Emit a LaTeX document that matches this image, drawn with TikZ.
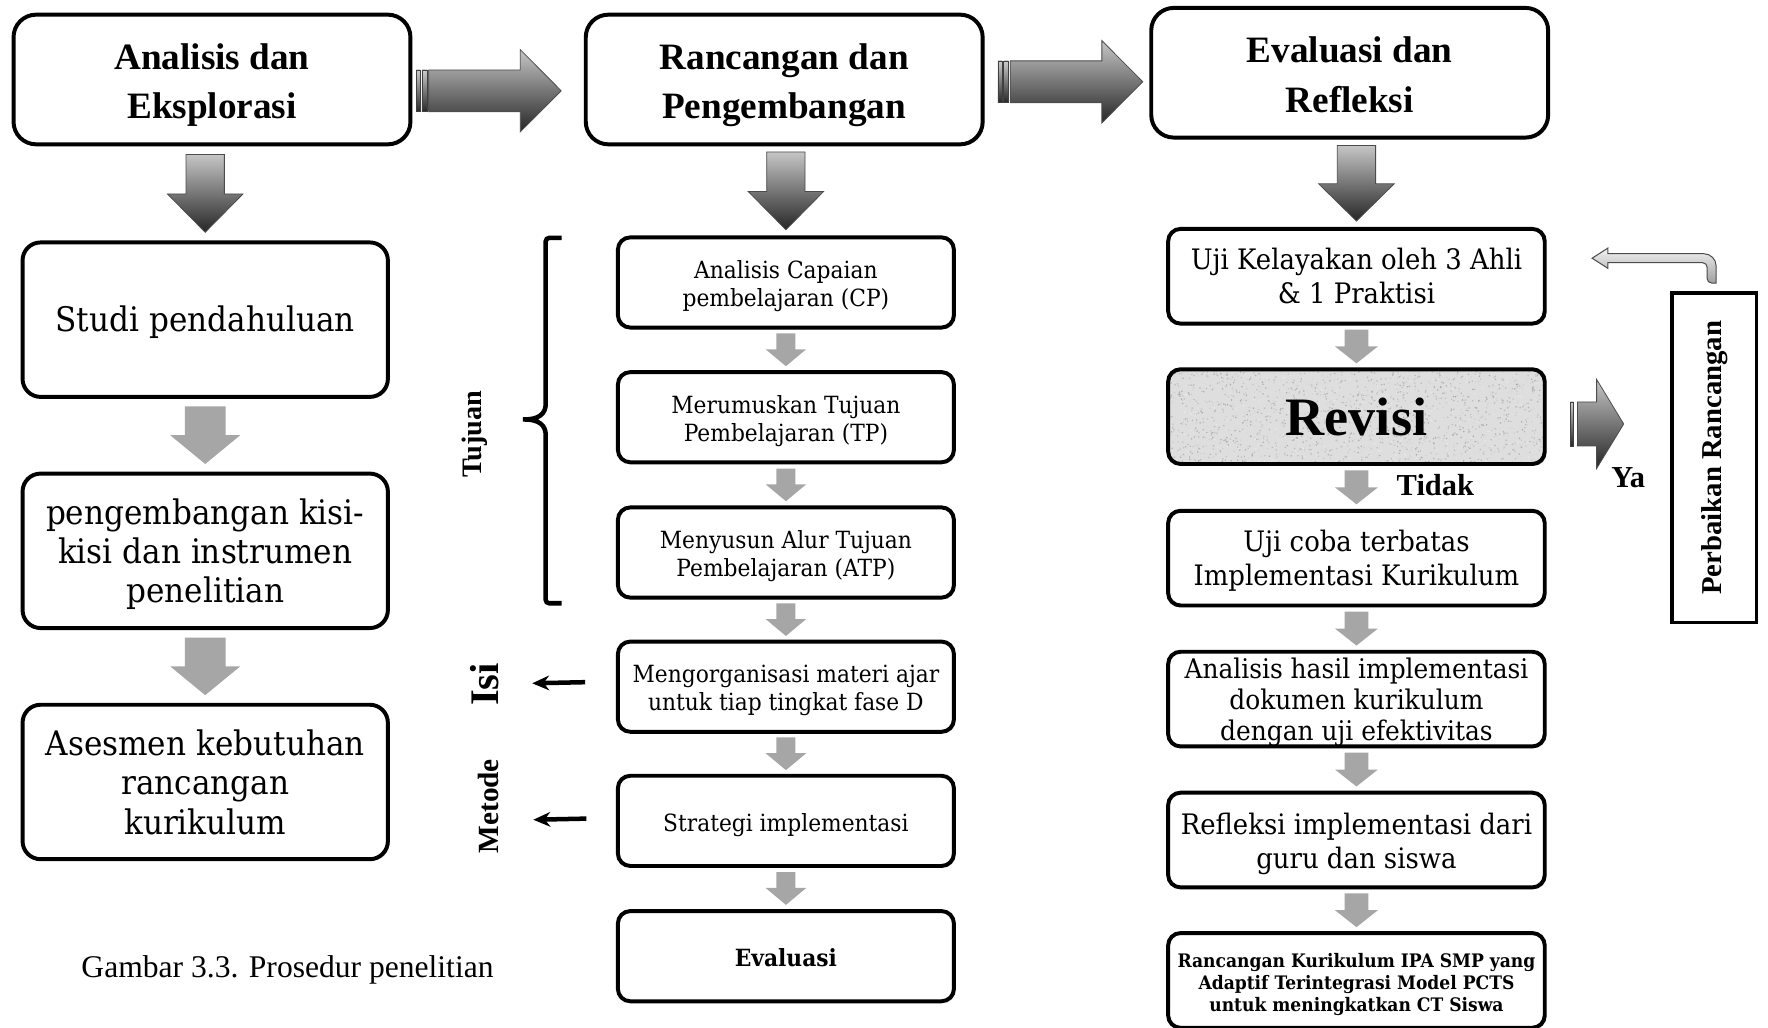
\documentclass[tikz,border=0pt]{standalone}
\usepackage{fontspec}
\setmainfont{Liberation Serif}
\newfontfamily\cam[FakeStretch=0.92]{DejaVu Serif}
\usetikzlibrary{calc,arrows.meta,shadows}
\definecolor{arrowgrey}{RGB}{166,166,166}
\definecolor{revgrey}{RGB}{222,222,222}
\tikzset{
  shdw/.style={drop shadow={shadow xshift=1.5pt,shadow yshift=-1.5pt,opacity=.3}},
  boxbase/.style={draw,line width=3.5pt,fill=white,inner sep=0pt,outer sep=0pt},
  hdr/.style={boxbase,rounded corners=20pt,minimum width=352pt,minimum height=115pt},
  lbox/.style={boxbase,rounded corners=16pt,minimum width=324pt,minimum height=137pt},
  mbox/.style={boxbase,rounded corners=11pt,minimum width=298pt,minimum height=80pt},
  rbox/.style={boxbase,rounded corners=11pt,minimum width=334pt,minimum height=84pt},
  htext/.style={align=center,inner sep=0pt,yshift=-5pt,font=\fontsize{33}{44}\selectfont\bfseries},
  ltext/.style={align=center,inner sep=0pt,yshift=-2pt,font=\cam\fontsize{30}{35}\selectfont},
  mtext/.style={align=center,inner sep=0pt,yshift=-3.5pt,font=\cam\fontsize{21}{25}\selectfont},
  rtext/.style={align=center,inner sep=0pt,yshift=-2.5pt,font=\cam\fontsize{25}{30}\selectfont},
  darkshade/.style={draw=black!70,line width=.7pt,top color=gray!45,bottom color=black!85},
  greyfill/.style={fill=arrowgrey},
  stripe/.style={top color=gray!40,bottom color=black!85,draw=black!75,line width=.6pt},
  sidearrow/.style={line width=4pt,-{Stealth[length=15pt,width=13pt]}},
  sidelabel/.style={rotate=90,inner sep=0pt,font=\bfseries\fontsize{#1}{#1}\selectfont},
  boldlabel/.style={inner sep=0pt,font=\bfseries\fontsize{#1}{#1}\selectfont},
}
% box with its text as a second named node
\newcommand\tbox[5]{%
  \node[#1] (#2) at (#3) {};
  \node[#4] (#2t) at (#2.center) {#5};
}
% downward block arrow centred between two nodes: style, from, to, name, shaft, head, length, head length
\newcommand\blockdown[8]{%
  \coordinate (#4m) at ($(#2.south)!.5!(#3.north)$);
  \coordinate (#4) at (#3.north |- #4m);
  \path[#1] ($(#4)+({-(#5)/2},{-(#7)/2})$) -- ($(#4)+({(#5)/2},{-(#7)/2})$)
    -- ($(#4)+({(#5)/2},{(#7)/2-(#8)})$) -- ($(#4)+({(#6)/2},{(#7)/2-(#8)})$)
    -- ($(#4)+(0,{(#7)/2})$) -- ($(#4)+({-(#6)/2},{(#7)/2-(#8)})$)
    -- ($(#4)+({-(#5)/2},{(#7)/2-(#8)})$) -- cycle;
}
% rightward block arrow around a named centre: style, centre, shaft, head, length, head length
\newcommand\blockright[6]{%
  \path[#1] ($(#2)+({-(#5)/2},{-(#3)/2})$) -- ($(#2)+({(#5)/2-(#6)},{-(#3)/2})$)
    -- ($(#2)+({(#5)/2-(#6)},{-(#4)/2})$) -- ($(#2)+({(#5)/2},0)$)
    -- ($(#2)+({(#5)/2-(#6)},{(#4)/2})$) -- ($(#2)+({(#5)/2-(#6)},{(#3)/2})$)
    -- ($(#2)+({-(#5)/2},{(#3)/2})$) -- cycle;
}
% tail stripe: style, centre, shaft, length, from offset, to offset (measured left of tail)
\newcommand\tailstripe[6]{%
  \path[#1] ($(#2)+({-(#4)/2-(#5)},{-(#3)/2})$) rectangle ($(#2)+({-(#4)/2-(#6)},{(#3)/2})$);
}
\begin{document}
\begin{tikzpicture}[x=1pt,y=-1pt]
\useasboundingbox (0,0) rectangle (1568,911);
\fill[white] (0,0) rectangle (1568,911);

% headers
\tbox{hdr,shdw}{A}{188,70.5}{htext}{Analisis dan\\Eksplorasi}
\tbox{hdr,shdw}{B}{695.5,70.5}{htext}{Rancangan dan\\Pengembangan}
\tbox{hdr,shdw}{C}{1197,64.5}{htext,yshift=3pt}{Evaluasi dan\\Refleksi}

% left column
\tbox{lbox,shdw}{L1}{182,283.5}{ltext}{Studi pendahuluan}
\tbox{lbox,shdw}{L2}{182,488.5}{ltext,yshift=-1pt}{pengembangan kisi-\\kisi dan instrumen\\penelitian}
\tbox{lbox,shdw}{L3}{182,693.5}{ltext,yshift=2pt}{Asesmen kebutuhan\\rancangan\\kurikulum}

% middle column
\tbox{mbox,shdw}{M1}{697,250.5}{mtext}{Analisis Capaian\\pembelajaran (CP)}
\tbox{mbox,shdw}{M2}{697,370}{mtext}{Merumuskan Tujuan\\Pembelajaran (TP)}
\tbox{mbox,shdw}{M3}{697,490}{mtext}{Menyusun Alur Tujuan\\Pembelajaran (ATP)}
\tbox{mbox,shdw}{M4}{697,609}{mtext}{Mengorganisasi materi ajar\\untuk tiap tingkat fase D}
\tbox{mbox,shdw}{M5}{697,728}{mtext}{Strategi implementasi}
\tbox{mbox,shdw}{M6}{697,848}{mtext,yshift=2.5pt,font=\cam\bfseries\fontsize{21}{25}\selectfont}{Evaluasi}

% right column
\tbox{rbox,shdw}{R1}{1203,245}{rtext,yshift=2.5pt}{Uji Kelayakan oleh 3 Ahli\\\& 1 Praktisi}
\fill[black,opacity=.3,rounded corners=11pt] (1037.5,329) rectangle (1371.5,413);
\fill[revgrey,rounded corners=11pt] (1036,327.5) rectangle (1370,411.5);
\begin{scope}
\clip[rounded corners=11pt] (1036,327.5) rectangle (1370,411.5);
\pgfmathsetseed{42}
\foreach \i in {1,...,2200}{
  \pgfmathsetmacro\px{1036+334*rnd}
  \pgfmathsetmacro\py{327.5+84*rnd}
  \pgfmathtruncatemacro\pc{8+26*rnd}
  \fill[black!\pc] (\px,\py) circle (0.75pt);
}
\end{scope}
\tbox{rbox,fill=none}{R2}{1203,369.5}{inner sep=0pt,font=\bfseries\fontsize{48}{48}\selectfont}{Revisi}
\tbox{rbox,shdw}{R3}{1203,495}{rtext}{Uji coba terbatas\\Implementasi Kurikulum}
\tbox{rbox,shdw}{R4}{1203,620}{rtext,font=\cam\fontsize{24}{27.5}\selectfont}{Analisis hasil implementasi\\dokumen kurikulum\\dengan uji efektivitas}
\tbox{rbox,shdw}{R5}{1203,745}{rtext,yshift=-1pt}{Refleksi implementasi dari\\guru dan siswa}
\tbox{rbox,shdw}{R6}{1203,869.5}{rtext,yshift=-1pt,font=\cam\bfseries\fontsize{16.5}{19.5}\selectfont}{Rancangan Kurikulum IPA SMP yang\\Adaptif Terintegrasi Model PCTS\\untuk meningkatkan CT Siswa}

% Perbaikan
\node[draw,line width=3pt,minimum width=75pt,minimum height=292pt,inner sep=0pt,outer sep=0pt] (P) at (1520.5,406) {};
\node[sidelabel=25.5] (Pt) at (P.center) {Perbaikan Rancangan};

% dark down arrows
\blockdown{darkshade}{A}{L1}{dA}{34}{67}{69}{34}
\blockdown{darkshade}{B}{M1}{dB}{34}{67}{69}{34}
\blockdown{darkshade}{C}{R1}{dC}{34}{67}{67}{33}

% grey arrows
\blockdown{greyfill}{L1}{L2}{gL1}{36}{62}{51}{25.5}
\blockdown{greyfill}{L2}{L3}{gL2}{36}{62}{51}{25.5}
\blockdown{greyfill}{M1}{M2}{gM1}{17}{36}{29}{15}
\blockdown{greyfill}{M2}{M3}{gM2}{17}{36}{29}{15}
\blockdown{greyfill}{M3}{M4}{gM3}{17}{36}{29}{15}
\blockdown{greyfill}{M4}{M5}{gM4}{17}{36}{29}{15}
\blockdown{greyfill}{M5}{M6}{gM5}{17}{36}{29}{15}
\blockdown{greyfill}{R1}{R2}{gR1}{21}{38}{30}{15}
\blockdown{greyfill}{R2}{R3}{gR2}{21}{38}{30}{15}
\blockdown{greyfill}{R3}{R4}{gR3}{21}{38}{30}{15}
\blockdown{greyfill}{R4}{R5}{gR4}{21}{38}{30}{15}
\blockdown{greyfill}{R5}{R6}{gR5}{21}{38}{30}{15}

% right block arrows
\coordinate (abm) at ($(A.east)!.5!(B.west)$);
\coordinate (AB) at ([xshift=-2.8pt,yshift=-10pt]abm);
\blockright{darkshade}{AB}{37}{73}{117.5}{36.3}
\tailstripe{stripe}{AB}{37}{117.5}{11}{7.5}
\tailstripe{stripe}{AB}{37}{117.5}{6}{1.5}
\coordinate (bcm) at ($(B.east)!.5!(C.west)$);
\coordinate (BC) at ([xshift=8.5pt,yshift=-5pt]bcm);
\blockright{darkshade}{BC}{37}{73}{117.5}{36.3}
\tailstripe{stripe}{BC}{37}{117.5}{11}{7.5}
\tailstripe{stripe}{BC}{37}{117.5}{6}{1.5}
\coordinate (RY) at ([xshift=49.5pt,yshift=-6.5pt]R2.east);
\blockright{darkshade}{RY}{39}{79}{41}{24}
\tailstripe{stripe}{RY}{39}{41}{6}{3.5}

% bent arrow from Perbaikan back to Uji Kelayakan
\shade[top color=gray!10,bottom color=gray!75,draw=black!70,line width=.9pt]
  (1522,251) [rounded corners=11pt] -- (1522,225) -- (1480,225) [sharp corners] -- (1426,225) -- (1426,220)
  -- (1412,229) -- (1426,238) -- (1426,233) -- (1480,233) [rounded corners=4pt] -- (1514,233) -- (1514,251)
  [sharp corners] -- cycle;

% bracket
\draw[line width=4pt,rounded corners=3pt] (498,211) -- (484,211) -- (484,355)
  .. controls (484,367) and (478,372) .. (462,372)
  .. controls (478,372) and (484,377) .. (484,389) -- (484,535) -- (498,535);

% side labels and arrows
\node[sidelabel=25] (tuj) at (421,385) {Tujuan};
\node[sidelabel=36] (isi) at (430,607) {Isi};
\node[sidelabel=26] (met) at (433,715) {Metode};
\draw[sidearrow] ([xshift=-29pt,yshift=4pt]M4.west) -- ([xshift=-76pt,yshift=3pt]M4.west);
\draw[sidearrow] ([xshift=-28pt,yshift=2pt]M5.west) -- ([xshift=-75pt,yshift=1pt]M5.west);

\node[boldlabel=27] (tidak) at (1273,430) {Tidak};
\node[boldlabel=27] (ya) at (1444,424) {Ya};
\node[inner sep=0pt,font=\fontsize{28}{30}\selectfont] (cap) at (255,860) {Gambar 3.3. Prosedur penelitian};
\end{tikzpicture}
\end{document}
